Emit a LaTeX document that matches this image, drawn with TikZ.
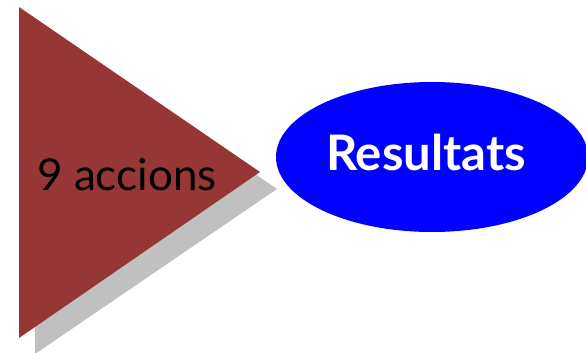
\documentclass[tikz,border=0pt]{standalone}
\usepackage{fontspec}
\setmainfont{Lato}
\usetikzlibrary{shapes.geometric}
\definecolor{tri}{RGB}{149,55,53}
\definecolor{shadowgray}{RGB}{192,192,192}
\definecolor{ell}{RGB}{0,0,255}
\tikzset{
  lbl/.style={inner sep=0pt, font=\fontsize{44}{44}\selectfont},
}
\begin{document}
\begin{tikzpicture}[x=1pt,y=-1pt]
\useasboundingbox (0,0) rectangle (586,353);
% shadow
\fill[shadowgray] (35,24) -- (277,189) -- (35,354) -- cycle;
% triangle
\fill[tri] (19,7) -- (260,172) -- (19,338) -- cycle;
% ellipse
\node[ellipse, fill=ell, minimum width=312pt, minimum height=150pt, inner sep=0pt] (res) at (432,157) {};
\node[inner sep=0pt, text=white, font=\fontsize{49}{49}\selectfont\bfseries, anchor=base] (restxt) at (426,170) {Resultats};
\node[lbl, text=black, anchor=base] (acc) at (127,190) {9 accions};
\end{tikzpicture}
\end{document}
